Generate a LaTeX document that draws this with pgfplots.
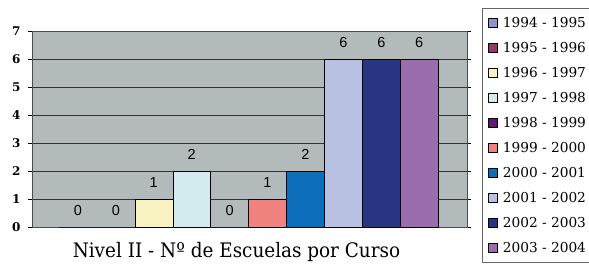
\documentclass[border=0pt]{standalone}
\usepackage{pgfplots}
\pgfplotsset{compat=1.18}
\usepackage{fontspec}
\setmainfont{DejaVu Serif}
\newfontfamily\labelfont{Liberation Sans}
\newfontfamily\titlefont[FakeStretch=0.92]{DejaVu Serif}
\definecolor{bgc}{HTML}{B3BABC}
\definecolor{c1}{HTML}{8B94C9}
\definecolor{c2}{HTML}{943A6B}
\definecolor{c3}{HTML}{F9F3C2}
\definecolor{c4}{HTML}{D3EBEE}
\definecolor{c5}{HTML}{5E1A6C}
\definecolor{c6}{HTML}{F08380}
\definecolor{c7}{HTML}{0D6EBC}
\definecolor{c8}{HTML}{B8C1E1}
\definecolor{c9}{HTML}{283583}
\definecolor{c10}{HTML}{9B6CAE}
\begin{document}
\begin{tikzpicture}
\useasboundingbox (0pt,0pt) rectangle (589pt,268pt);
\begin{axis}[
  at={(32pt,41pt)}, anchor=south west, scale only axis,
  width=435pt, height=196pt,
  xmin=-1.21, xmax=10.26, ymin=0, ymax=7,
  ytick={0,...,7}, xtick=\empty,
  ymajorgrids, grid style={black!80, line width=0.6pt},
  axis background/.style={fill=bgc},
  axis line style={black!70, line width=0.7pt},
  tick align=outside, major tick length=4pt,
  ytick style={black, line width=0.6pt},
  /pgf/number format/assume math mode=true,
  yticklabel style={font=\bfseries\fontsize{12}{12}\selectfont, xshift=-4pt},
  ybar, bar width=1, bar shift=0pt,
  nodes near coords,
  every node near coord/.append style={font=\labelfont\fontsize{14.5}{14.5}\selectfont, anchor=south, yshift=8pt, black},
  legend image code/.code={\draw[#1,draw=black,line width=0.6pt] (0pt,-4.5pt) rectangle (9pt,4.5pt); \path (12pt,0pt);},
  legend style={at={(1.0345,1.117)}, anchor=north west, draw=black!60, line width=0.6pt, fill=white,
    font=\fontsize{13.7}{16}\selectfont, row sep=9.3pt, inner xsep=6pt, inner ysep=7pt,
    legend cell align=left},
  xlabel={Nivel II - Nº de Escuelas por Curso},
  xlabel style={at={(axis description cs:0.470,-0.158)}, anchor=base, font=\titlefont\fontsize{20}{20}\selectfont, inner sep=0pt},
]
\addplot[fill=c1, draw=black] coordinates {(0,0)};
\addplot[fill=c2, draw=black] coordinates {(1,0)};
\addplot[fill=c3, draw=black] coordinates {(2,1)};
\addplot[fill=c4, draw=black] coordinates {(3,2)};
\addplot[fill=c5, draw=black] coordinates {(4,0)};
\addplot[fill=c6, draw=black] coordinates {(5,1)};
\addplot[fill=c7, draw=black] coordinates {(6,2)};
\addplot[fill=c8, draw=black] coordinates {(7,6)};
\addplot[fill=c9, draw=black] coordinates {(8,6)};
\addplot[fill=c10, draw=black] coordinates {(9,6)};
\legend{1994 - 1995,1995 - 1996,1996 - 1997,1997 - 1998,1998 - 1999,1999 - 2000,2000 - 2001,2001 - 2002,2002 - 2003,2003 - 2004}
\end{axis}
\end{tikzpicture}
\end{document}
